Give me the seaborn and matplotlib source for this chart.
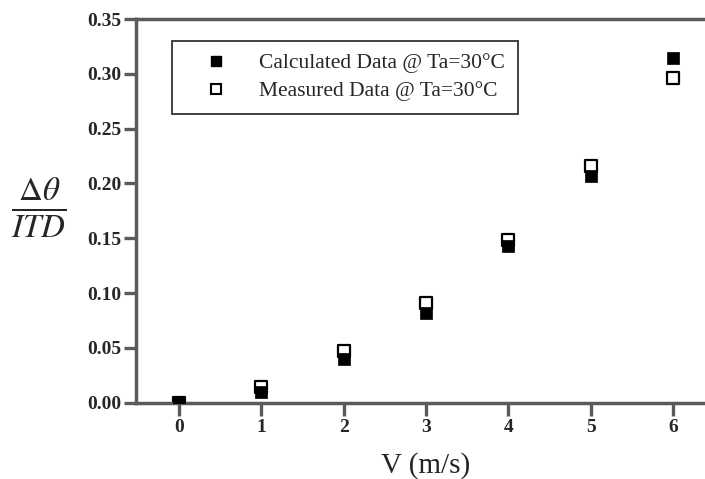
import pandas as pd
import matplotlib
matplotlib.use("Agg")
import matplotlib.pyplot as plt
import seaborn as sns
from matplotlib.lines import Line2D

# Data
velocity = [0, 1, 2, 3, 4, 5, 6]
calculated = [0.000, 0.010, 0.040, 0.082, 0.143, 0.207, 0.314]
measured = [0.000, 0.014, 0.047, 0.091, 0.148, 0.216, 0.296]
y_ticks = [0.00, 0.05, 0.10, 0.15, 0.20, 0.25, 0.30, 0.35]
calc_label = "Calculated Data @ Ta=30°C"
meas_label = "Measured Data @ Ta=30°C"

sns.set_style("ticks")
plt.rcParams["font.family"] = ["Liberation Serif", "DejaVu Serif"]
plt.rcParams["mathtext.fontset"] = "stix"

df_calc = pd.DataFrame({"V": velocity, "ratio": calculated})
df_meas = pd.DataFrame({"V": velocity, "ratio": measured})

spine_col = "#5a5a5a"

fig = plt.figure(figsize=(7.05, 4.79), dpi=100)
ax = fig.add_axes([0.1929, 0.1593, 0.8204, 0.801])

# open squares underneath, filled squares on top
sns.scatterplot(data=df_meas, x="V", y="ratio", marker="s", s=72,
                facecolor="white", edgecolor="black", linewidth=1.6, ax=ax, zorder=2)
sns.scatterplot(data=df_calc, x="V", y="ratio", marker="s", s=72,
                color="black", edgecolor="black", linewidth=0.5, ax=ax, zorder=3)

ax.set_xlim(-0.52, 6.5)
ax.set_ylim(0, 0.35)
ax.set_xticks(velocity)
ax.set_yticks(y_ticks)
ax.set_yticklabels([f"{t:.2f}" for t in y_ticks])
ax.tick_params(axis="both", direction="out", length=9, width=2.4,
               color=spine_col, labelsize=14)
ax.tick_params(axis="y", pad=1.5)
ax.tick_params(axis="x", pad=3)
for lab in ax.get_xticklabels() + ax.get_yticklabels():
    lab.set_fontweight("bold")

for side in ["left", "bottom", "top"]:
    ax.spines[side].set_visible(True)
    ax.spines[side].set_color(spine_col)
    ax.spines[side].set_linewidth(2.5)
ax.spines["right"].set_visible(False)

ax.set_xlabel("V (m/s)", fontsize=21, va="center")
ax.xaxis.set_label_coords(0.5, -0.165)
ax.set_ylabel("")
fig.text(0.055, 0.567, r"$\frac{\Delta\theta}{ITD}$", fontsize=34,
         ha="center", va="center")

handles = [
    Line2D([], [], marker="s", linestyle="none", markersize=7.2,
           markerfacecolor="black", markeredgecolor="black"),
    Line2D([], [], marker="s", linestyle="none", markersize=7.2,
           markerfacecolor="white", markeredgecolor="black", markeredgewidth=1.5),
]
leg = ax.legend(handles, [calc_label, meas_label], loc="upper left",
                bbox_to_anchor=(0.0617, 0.944), fontsize=15.5, frameon=True,
                fancybox=False, edgecolor="black", handletextpad=0.5,
                borderpad=0.6, handlelength=2.95, borderaxespad=0,
                labelspacing=0.36)
leg.get_frame().set_linewidth(1.3)

fig.savefig("out.png", dpi=100)
